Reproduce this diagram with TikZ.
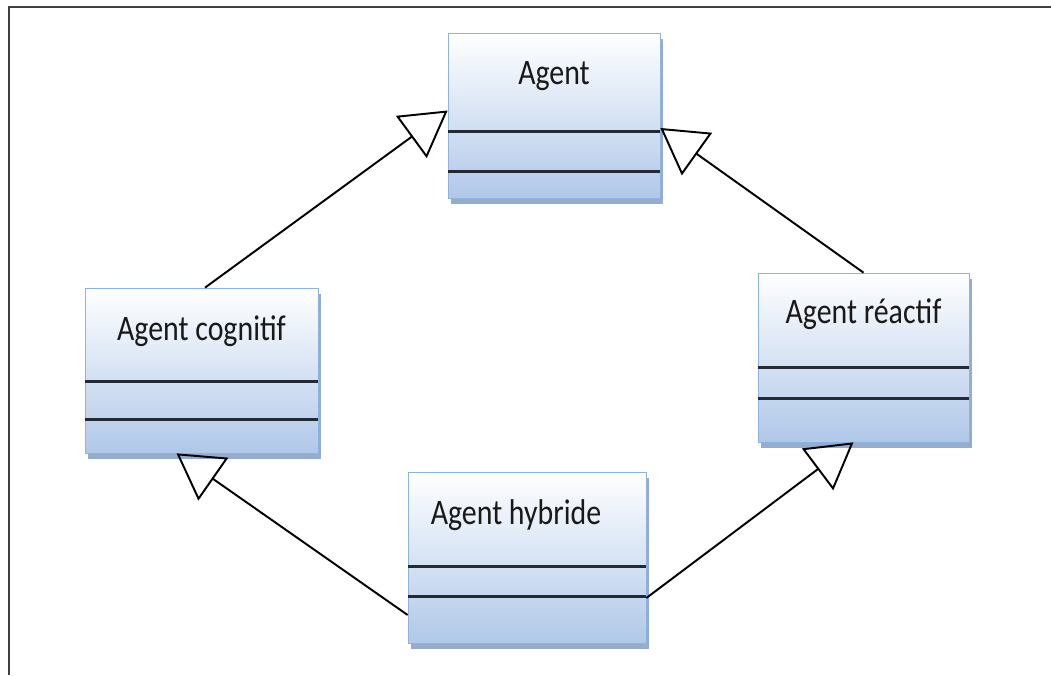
\documentclass[tikz,border=0pt]{standalone}
\usepackage{fontspec}
\setmainfont{Carlito}
\usetikzlibrary{arrows.meta, shadows}
\definecolor{boxline}{RGB}{141,179,226}
\definecolor{boxblue}{RGB}{176,200,233}
\definecolor{shadowblue}{RGB}{150,172,202}
\definecolor{sepline}{RGB}{35,42,52}
\definecolor{framegray}{RGB}{64,64,64}
\newcommand{\clsname}[1]{\scalebox{1}[1.2]{#1}}

\begin{document}
\begin{tikzpicture}[>={Triangle[open, length=0.9cm, width=1.04cm]}]
	\tikzstyle{umlclass} = [rectangle, draw=boxline, thin, top color=white, bottom color=boxblue, inner sep=0pt, drop shadow={shadow xshift=0.06cm, shadow yshift=-0.12cm, fill=shadowblue, opacity=1}]
	\tikzstyle{classname} = [font=\fontsize{17}{20}\selectfont, text=black!90, inner sep=0pt]
	\tikzstyle{divider} = [draw=sepline, line width=1.4pt]
	\useasboundingbox (0,0) rectangle (21.02,13.5);
	\draw[framegray, line width=1.7pt] (0.18,0) -- (0.18,13.36) -- (21.02,13.36);

	\node[umlclass, minimum width=4.24cm, minimum height=3.3cm] (agent) at (11.08,11.19) {};
	\node[umlclass, minimum width=4.66cm, minimum height=3.3cm] (cognitif) at (4.03,6.09) {};
	\node[umlclass, minimum width=4.22cm, minimum height=3.38cm] (reactif) at (17.27,6.35) {};
	\node[umlclass, minimum width=4.76cm, minimum height=3.42cm] (hybride) at (10.54,2.35) {};

	\node[classname] (agent_name) at ([yshift=-0.86cm]agent.north) {\clsname{Agent}};
	\node[classname] (cognitif_name) at ([yshift=-0.88cm]cognitif.north) {\clsname{Agent cognitif}};
	\node[classname] (reactif_name) at ([yshift=-0.84cm]reactif.north) {\clsname{Agent réactif}};
	\node[classname] (hybride_name) at ([xshift=-0.22cm, yshift=-0.86cm]hybride.north) {\clsname{Agent hybride}};

	%attribute and operation compartments
	\draw[divider]
	([yshift=-1.98cm]agent.north west) -- ([yshift=-1.98cm]agent.north east)
	([yshift=-2.78cm]agent.north west) -- ([yshift=-2.78cm]agent.north east)
	([yshift=-1.88cm]cognitif.north west) -- ([yshift=-1.88cm]cognitif.north east)
	([yshift=-2.64cm]cognitif.north west) -- ([yshift=-2.64cm]cognitif.north east)
	([yshift=-1.9cm]reactif.north west) -- ([yshift=-1.9cm]reactif.north east)
	([yshift=-2.52cm]reactif.north west) -- ([yshift=-2.52cm]reactif.north east)
	([yshift=-1.9cm]hybride.north west) -- ([yshift=-1.9cm]hybride.north east)
	([yshift=-2.5cm]hybride.north west) -- ([yshift=-2.5cm]hybride.north east)
	;

	%generalisation
	\draw[line width=1.1pt]
	([xshift=0.07cm]cognitif.north) edge[->] ([yshift=0.1cm]agent.west)
	(reactif.north) edge[->] ([yshift=-0.25cm]agent.east)
	([yshift=-1.15cm]hybride.west) edge[->] ([xshift=-0.5cm]cognitif.south)
	([yshift=-0.81cm]hybride.east) edge[->] ([xshift=-0.2cm]reactif.south)
	;
\end{tikzpicture}
\end{document}
